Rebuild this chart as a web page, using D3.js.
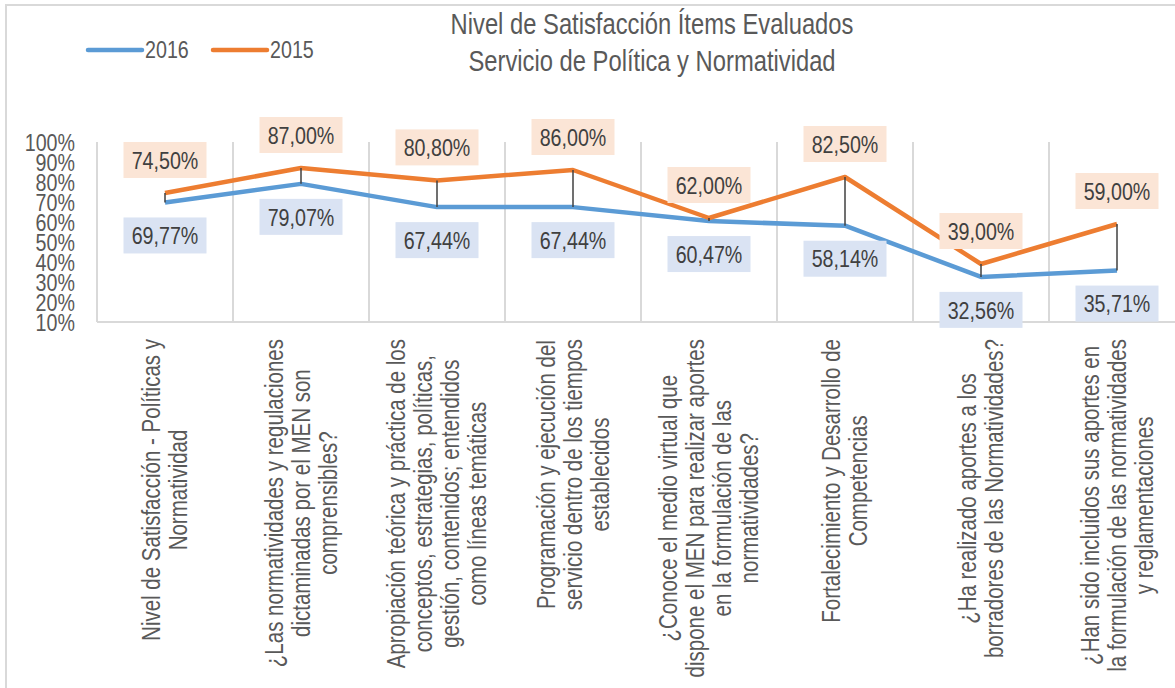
<!DOCTYPE html>
<html>
<head>
<meta charset="utf-8">
<script src="https://cdn.jsdelivr.net/npm/d3@7"></script>
<style>
  body { margin: 0; background: #fff; }
  svg text { font-family: "Liberation Sans", Arial, sans-serif; }
</style>
</head>
<body>
<script>
const categories = [
  ["Nivel de Satisfacción - Políticas y", "Normatividad"],
  ["¿Las normatividades y regulaciones", "dictaminadas por el MEN son", "comprensibles?"],
  ["Apropiación teórica y práctica de los", "conceptos, estrategias, políticas,", "gestión, contenidos; entendidos", "como líneas temáticas"],
  ["Programación y ejecución del", "servicio dentro de los tiempos", "establecidos"],
  ["¿Conoce el medio virtual que", "dispone el MEN para realizar aportes", "en la formulación de las", "normatividades?"],
  ["Fortalecimiento y Desarrollo de", "Competencias"],
  ["¿Ha realizado aportes a los", "borradores de las Normatividades?"],
  ["¿Han sido incluidos sus aportes en", "la formulación de las normatividades", "y reglamentaciones"]
]
const values2016 = [0.6977, 0.7907, 0.6744, 0.6744, 0.6047, 0.5814, 0.3256, 0.3571]
const values2015 = [0.745, 0.87, 0.808, 0.86, 0.62, 0.825, 0.39, 0.59]
const yTicks = [0.1, 0.2, 0.3, 0.4, 0.5, 0.6, 0.7, 0.8, 0.9, 1.0]
const titleLines = ["Nivel de Satisfacción Ítems Evaluados", "Servicio de Política y Normatividad"]

const blue = "#5B9BD5", orange = "#ED7D31", grid = "#D9D9D9", textColor = "#595959"
const narrow = 0.82   // squeeze to look like Arial Narrow

const locale = d3.formatLocale({ decimal: ",", thousands: ".", grouping: [3], currency: ["", ""] })
const fmtLabel = locale.format(".2%")
const fmtTick = locale.format(".0%")

const svg = d3.select("body").append("svg")
    .attr("width", 1175)
    .attr("height", 688)

// chart border
svg.append("rect")
    .attr("x", 6).attr("y", 5)
    .attr("width", 1300).attr("height", 800)
    .attr("fill", "none")
    .attr("stroke", grid)
    .attr("stroke-width", 2)

const idx = d3.range(categories.length)
const x = d3.scaleBand()
    .domain(idx)
    .range([97, 1185])
    .padding(0)

const y = d3.scaleLinear()
    .domain([0.1, 1])
    .range([322, 142])

const cx = i => x(i) + x.bandwidth() / 2

// title
svg.append("g").selectAll("text")
    .data(titleLines)
    .join("text")
    .attr("transform", (d, i) => `translate(652,${34 + i * 37}) scale(${narrow},1)`)
    .attr("text-anchor", "middle")
    .attr("font-size", 29)
    .attr("fill", textColor)
    .text(d => d)

// legend
const legend = [{ name: "2016", color: blue, x: 88 }, { name: "2015", color: orange, x: 213 }]
const lg = svg.append("g").selectAll("g").data(legend).join("g")
lg.append("line")
    .attr("x1", d => d.x).attr("x2", d => d.x + 54)
    .attr("y1", 50).attr("y2", 50)
    .attr("stroke", d => d.color)
    .attr("stroke-width", 4.5)
    .attr("stroke-linecap", "round")
lg.append("text")
    .attr("transform", d => `translate(${d.x + 57},58) scale(${narrow},1)`)
    .attr("font-size", 24)
    .attr("fill", textColor)
    .text(d => d.name)

// vertical gridlines at category boundaries
svg.append("g").selectAll("line")
    .data(d3.range(categories.length + 1))
    .join("line")
    .attr("x1", i => 97 + i * x.bandwidth())
    .attr("x2", i => 97 + i * x.bandwidth())
    .attr("y1", y(1))
    .attr("y2", y(0.1))
    .attr("stroke", grid)
    .attr("stroke-width", 2)

// y axis labels
const yAxis = svg.append("g")
    .attr("transform", "translate(97,0)")
    .call(d3.axisLeft(y).tickValues(yTicks).tickFormat(fmtTick).tickSize(0))
yAxis.select(".domain").remove()
yAxis.selectAll("text")
    .attr("x", 0)
    .attr("transform", `translate(-22,0) scale(${narrow},1)`)
    .attr("font-size", 24)
    .attr("fill", textColor)
    .attr("dy", "0.36em")

// x axis line
svg.append("line")
    .attr("x1", 97).attr("x2", 1185)
    .attr("y1", y(0.1)).attr("y2", y(0.1))
    .attr("stroke", grid)
    .attr("stroke-width", 2)

// category labels, rotated
const xl = svg.append("g")
categories.forEach((lines, i) => {
    const g = xl.append("g")
    const texts = g.selectAll("text")
        .data(lines)
        .join("text")
        .attr("text-anchor", "middle")
        .attr("font-size", 25)
        .attr("fill", textColor)
        .text(d => d)
    let maxLen = 0
    texts.each(function () { maxLen = Math.max(maxLen, this.getComputedTextLength() * narrow) })
    const n = lines.length
    texts.attr("transform", (d, j) => {
        const px = cx(i) + (j - (n - 1) / 2) * 27
        return `translate(${px},${339 + maxLen / 2}) rotate(-90) scale(${narrow},1)`
    })
        .attr("dy", "0.35em")
})

// lines
const line = d3.line()
    .x((d, i) => cx(i))
    .y(d => y(d))

svg.append("path")
    .datum(values2016)
    .attr("d", line)
    .attr("fill", "none")
    .attr("stroke", blue)
    .attr("stroke-width", 4.5)
    .attr("stroke-linejoin", "round")

svg.append("path")
    .datum(values2015)
    .attr("d", line)
    .attr("fill", "none")
    .attr("stroke", orange)
    .attr("stroke-width", 4.5)
    .attr("stroke-linejoin", "round")

// high-low lines
svg.append("g").selectAll("line")
    .data(idx)
    .join("line")
    .attr("x1", i => cx(i)).attr("x2", i => cx(i))
    .attr("y1", i => y(values2015[i]))
    .attr("y2", i => y(values2016[i]))
    .attr("stroke", "#404040")
    .attr("stroke-width", 1.5)

// data labels
function labels(values, offset, fill) {
    const g = svg.append("g").selectAll("g")
        .data(values)
        .join("g")
        .attr("transform", (d, i) => `translate(${cx(i)},${y(d) + offset})`)
    g.append("rect")
        .attr("x", -41.5).attr("y", -18)
        .attr("width", 83).attr("height", 36)
        .attr("fill", fill)
    g.append("text")
        .attr("transform", `scale(${narrow},1)`)
        .attr("text-anchor", "middle")
        .attr("dy", "0.36em")
        .attr("font-size", 24)
        .attr("fill", "#404040")
        .text(d => fmtLabel(d))
}
labels(values2015, -33, "#FBE5D6")
labels(values2016, 33, "#DAE3F3")
</script>
</body>
</html>
